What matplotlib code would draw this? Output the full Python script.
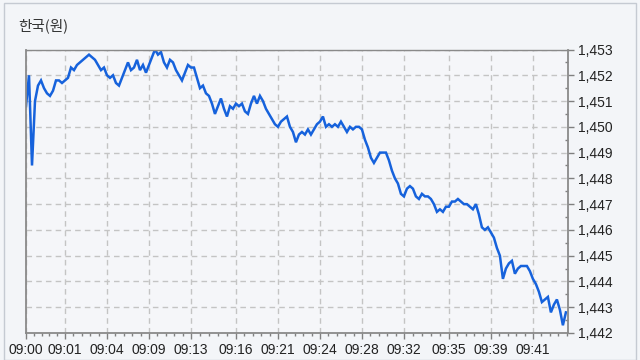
import numpy as np
import matplotlib
matplotlib.use("Agg")
import matplotlib.pyplot as plt
from matplotlib.patches import Rectangle

title = "한국(원)"
tick_labels = ["09:00", "09:01", "09:04", "09:09", "09:13", "09:16", "09:21",
               "09:24", "09:28", "09:32", "09:35", "09:39", "09:41"]
tick_index = [0, 13, 27, 41, 55, 70, 84, 98, 112, 126, 141, 155, 169]
y_ticks = [1442, 1443, 1444, 1445, 1446, 1447, 1448, 1449, 1450, 1451, 1452, 1453]

rate = [
    1450.8, 1452.0, 1448.5, 1451.0, 1451.6, 1451.8, 1451.5, 1451.3, 1451.2, 1451.4,
    1451.8, 1451.8, 1451.7, 1451.8, 1451.9, 1452.3, 1452.2, 1452.4, 1452.5, 1452.6,
    1452.7, 1452.8, 1452.7, 1452.6, 1452.4, 1452.2, 1452.3, 1452.0, 1451.9, 1452.0,
    1451.7, 1451.6, 1451.9, 1452.2, 1452.5, 1452.2, 1452.3, 1452.6, 1452.2, 1452.4,
    1452.1, 1452.4, 1452.7, 1453.0, 1452.8, 1452.9, 1452.5, 1452.3, 1452.6, 1452.5,
    1452.2, 1452.0, 1451.8, 1452.1, 1452.4, 1452.3, 1452.3, 1451.9, 1451.5, 1451.6,
    1451.3, 1451.2, 1450.9, 1450.5, 1450.8, 1451.1, 1450.7, 1450.4, 1450.8, 1450.7,
    1450.9, 1450.8, 1450.9, 1450.6, 1450.5, 1450.9, 1451.2, 1450.9, 1451.2, 1451.0,
    1450.7, 1450.5, 1450.3, 1450.1, 1450.0, 1450.2, 1450.3, 1450.4, 1450.0, 1449.8,
    1449.4, 1449.7, 1449.8, 1449.7, 1449.9, 1449.7, 1449.9, 1450.1, 1450.2, 1450.4,
    1450.0, 1450.1, 1450.0, 1450.1, 1450.0, 1450.2, 1450.0, 1449.8, 1450.0, 1449.9,
    1450.0, 1450.0, 1449.9, 1449.5, 1449.2, 1448.8, 1448.6, 1448.8, 1449.0, 1449.0,
    1449.0, 1448.7, 1448.3, 1448.0, 1447.8, 1447.4, 1447.3, 1447.6, 1447.7, 1447.6,
    1447.3, 1447.2, 1447.4, 1447.3, 1447.3, 1447.2, 1447.0, 1446.7, 1446.8, 1446.7,
    1446.9, 1446.9, 1447.1, 1447.1, 1447.2, 1447.1, 1447.0, 1447.0, 1446.9, 1446.8,
    1447.0, 1446.6, 1446.1, 1446.0, 1446.1, 1445.9, 1445.7, 1445.3, 1445.0, 1444.1,
    1444.5, 1444.7, 1444.8, 1444.3, 1444.5, 1444.6, 1444.6, 1444.6, 1444.4, 1444.1,
    1443.9, 1443.6, 1443.2, 1443.3, 1443.4, 1442.8, 1443.1, 1443.3, 1442.9, 1442.3,
    1442.8,
]

plt.rcParams['font.family'] = ['Liberation Sans', 'Noto Sans CJK KR', 'DejaVu Sans']

fig = plt.figure(figsize=(6.4, 3.6), dpi=100)
fig.patch.set_facecolor('#f3f5f8')
fig.patches.append(Rectangle((4 / 640, 0.0), 632 / 640, 357 / 360, transform=fig.transFigure,
                             fill=False, edgecolor='#c5cad2', linewidth=1.0))

ax = fig.add_axes([26 / 640, 27 / 360, 542 / 640, 283.5 / 360])
ax.set_facecolor('#f5f6f9')

x = np.arange(len(rate))
ax.plot(x, rate, color='#1662dc', linewidth=1.8, solid_joinstyle='miter')

ax.set_xlim(0, 180.7)
ax.set_ylim(1442, 1453)

ax.set_xticks(tick_index)
ax.set_xticklabels(tick_labels)
minor = []
bounds = tick_index + [tick_index[-1] + (tick_index[-1] - tick_index[-2])]
for a, b in zip(bounds[:-1], bounds[1:]):
    minor.extend(np.linspace(a, b, 6)[1:-1])
ax.set_xticks([m for m in minor if m <= 180.7], minor=True)

ax.yaxis.tick_right()
ax.set_yticks(y_ticks)
ax.set_yticklabels([f"{v:,}" for v in y_ticks])
ax.set_yticks(np.arange(1442.5, 1453, 1.0), minor=True)

ax.tick_params(axis='x', which='major', length=4, width=1, color='#808080',
               labelsize=10, labelcolor='#222222', pad=3)
ax.tick_params(axis='x', which='minor', length=2.5, width=1, color='#808080')
ax.tick_params(axis='y', which='major', length=4, width=1, color='#808080',
               labelsize=10, labelcolor='#222222', pad=3, right=True, left=False)
ax.tick_params(axis='y', which='minor', length=2.5, width=1, color='#808080',
               direction='in', right=True, left=False)

ax.grid(True, which='major', color='#c4c4c4', linestyle=(0, (4, 3)), linewidth=1)

for side, sp in ax.spines.items():
    sp.set_color('#8a8a8a')
    sp.set_linewidth(1.3 if side in ('left', 'bottom', 'right') else 1.0)

fig.text(18 / 640, 1 - 25.5 / 360, title, fontsize=10.5, color='#333333',
         va='center', ha='left', family=['Noto Sans CJK KR', 'DejaVu Sans'])

fig.savefig('out.png', dpi=100, facecolor=fig.get_facecolor())
